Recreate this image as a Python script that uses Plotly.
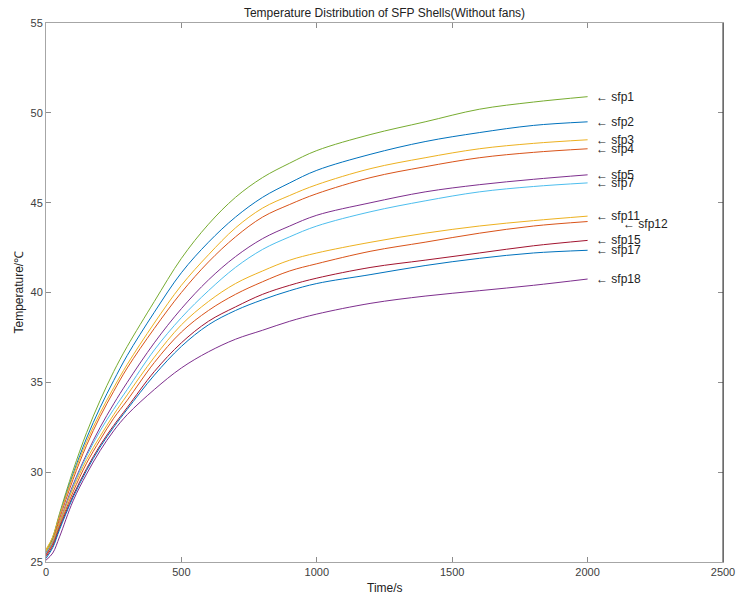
import plotly.graph_objects as go

time_s = [0, 25, 50, 100, 150, 200, 250, 300, 400, 500, 600, 700, 800, 900, 1000, 1200, 1400, 1600, 1800, 2000]

sfp1 = [25.6, 26.4, 27.7, 30.1, 32.2, 34.0, 35.6, 37.0, 39.5, 41.9, 43.8, 45.3, 46.4, 47.2, 47.9, 48.8, 49.5, 50.2, 50.6, 50.9]
sfp2 = [25.5, 26.3, 27.6, 29.9, 31.9, 33.6, 35.1, 36.5, 38.9, 41.1, 42.8, 44.2, 45.3, 46.1, 46.8, 47.7, 48.4, 48.9, 49.3, 49.5]
sfp3 = [25.7, 26.4, 27.6, 29.8, 31.7, 33.3, 34.7, 36.0, 38.3, 40.4, 42.1, 43.6, 44.7, 45.4, 46.0, 46.9, 47.5, 48.0, 48.3, 48.5]
sfp4 = [25.5, 26.2, 27.4, 29.6, 31.5, 33.1, 34.5, 35.8, 38.0, 40.0, 41.7, 43.1, 44.2, 44.9, 45.5, 46.4, 47.0, 47.5, 47.8, 48.0]
sfp5 = [25.4, 26.1, 27.2, 29.3, 31.0, 32.5, 33.8, 35.0, 37.2, 39.1, 40.7, 42.0, 43.0, 43.7, 44.3, 45.0, 45.6, 46.0, 46.3, 46.55]
sfp7 = [25.5, 26.1, 27.1, 29.2, 30.9, 32.3, 33.5, 34.6, 36.8, 38.6, 40.1, 41.4, 42.4, 43.1, 43.7, 44.5, 45.1, 45.6, 45.9, 46.1]
sfp11 = [25.6, 26.2, 27.2, 29.1, 30.7, 32.0, 33.2, 34.3, 36.4, 38.2, 39.5, 40.5, 41.2, 41.8, 42.2, 42.8, 43.3, 43.7, 44.0, 44.25]
sfp12 = [25.4, 26.0, 27.0, 28.9, 30.5, 31.8, 33.0, 34.0, 36.1, 37.8, 39.0, 39.9, 40.6, 41.2, 41.6, 42.3, 42.8, 43.3, 43.7, 43.95]
sfp15 = [25.3, 25.9, 26.9, 28.7, 30.2, 31.5, 32.6, 33.6, 35.6, 37.2, 38.4, 39.2, 39.9, 40.4, 40.8, 41.4, 41.8, 42.2, 42.6, 42.9]
sfp17 = [25.2, 25.8, 26.8, 28.6, 30.1, 31.4, 32.5, 33.5, 35.4, 37.0, 38.2, 39.0, 39.6, 40.1, 40.5, 41.0, 41.5, 41.9, 42.2, 42.35]
sfp18 = [25.1, 25.5, 26.4, 28.4, 29.9, 31.2, 32.3, 33.2, 34.6, 35.8, 36.7, 37.4, 37.9, 38.4, 38.8, 39.4, 39.8, 40.1, 40.4, 40.75]

names = ["sfp1", "sfp2", "sfp3", "sfp4", "sfp5", "sfp7", "sfp11", "sfp12", "sfp15", "sfp17", "sfp18"]
series = [sfp1, sfp2, sfp3, sfp4, sfp5, sfp7, sfp11, sfp12, sfp15, sfp17, sfp18]
colors = ["#77AC30", "#0072BD", "#EDB120", "#D95319", "#7E2F8E", "#4DBEEE",
          "#EDB120", "#D95319", "#A2142F", "#0072BD", "#7E2F8E"]

x_ticks = [0, 500, 1000, 1500, 2000, 2500]
y_ticks = [25, 30, 35, 40, 45, 50, 55]

fig = go.Figure()
for name, ys, c in zip(names, series, colors):
    fig.add_trace(go.Scatter(x=time_s, y=ys, mode="lines", name=name,
                             line=dict(color=c, width=1, shape="spline", smoothing=1.0),
                             showlegend=False))

font_family = "Liberation Sans, Arial, sans-serif"
for name, ys in zip(names, series):
    xs = 6
    ysh = 0
    if name == "sfp12":
        xs = 33
        ysh = -2
    fig.add_annotation(x=time_s[-1], y=ys[-1], text="\u2190 " + name, showarrow=False,
                       xanchor="left", yanchor="middle", xshift=xs, yshift=ysh,
                       font=dict(family=font_family, size=12, color="#222222"))

axis_common = dict(showgrid=False, zeroline=False, showline=True, linecolor="#a6a6a6",
                   linewidth=1, mirror="ticks", ticks="inside", ticklen=5, automargin=False,
                   tickcolor="#8c8c8c", tickfont=dict(family=font_family, size=11, color="#404040"))

fig.update_layout(
    width=737, height=598,
    margin=dict(l=46, r=14, t=23, b=36),
    paper_bgcolor="white", plot_bgcolor="white",
    title=dict(text="Temperature Distribution of SFP Shells(Without fans)",
               x=0.5217, xanchor="center", y=0.978, yanchor="middle",
               font=dict(family=font_family, size=12, color="#222222")),
    xaxis=dict(range=[0, 2500], tickvals=x_ticks, **axis_common),
    yaxis=dict(range=[25, 55], tickvals=y_ticks, **axis_common),
)
fig.add_annotation(text="Time/s", xref="paper", yref="paper", x=0.5, y=0, yshift=-26,
                   showarrow=False, yanchor="middle",
                   font=dict(family=font_family, size=12, color="#222222"))
fig.add_annotation(text="Temperature/\u2103", xref="paper", yref="paper", x=0, xshift=-28, y=0.5,
                   textangle=-90, showarrow=False, xanchor="center",
                   font=dict(family=font_family, size=12, color="#222222"))
fig.add_shape(type="line", xref="paper", yref="paper", x0=1, x1=1, y0=0, y1=1,
              line=dict(color="#333333", width=1))

fig.write_html("out.html", config={"displayModeBar": False},
               post_script="document.body.style.margin='0';document.body.style.overflow='hidden';")
